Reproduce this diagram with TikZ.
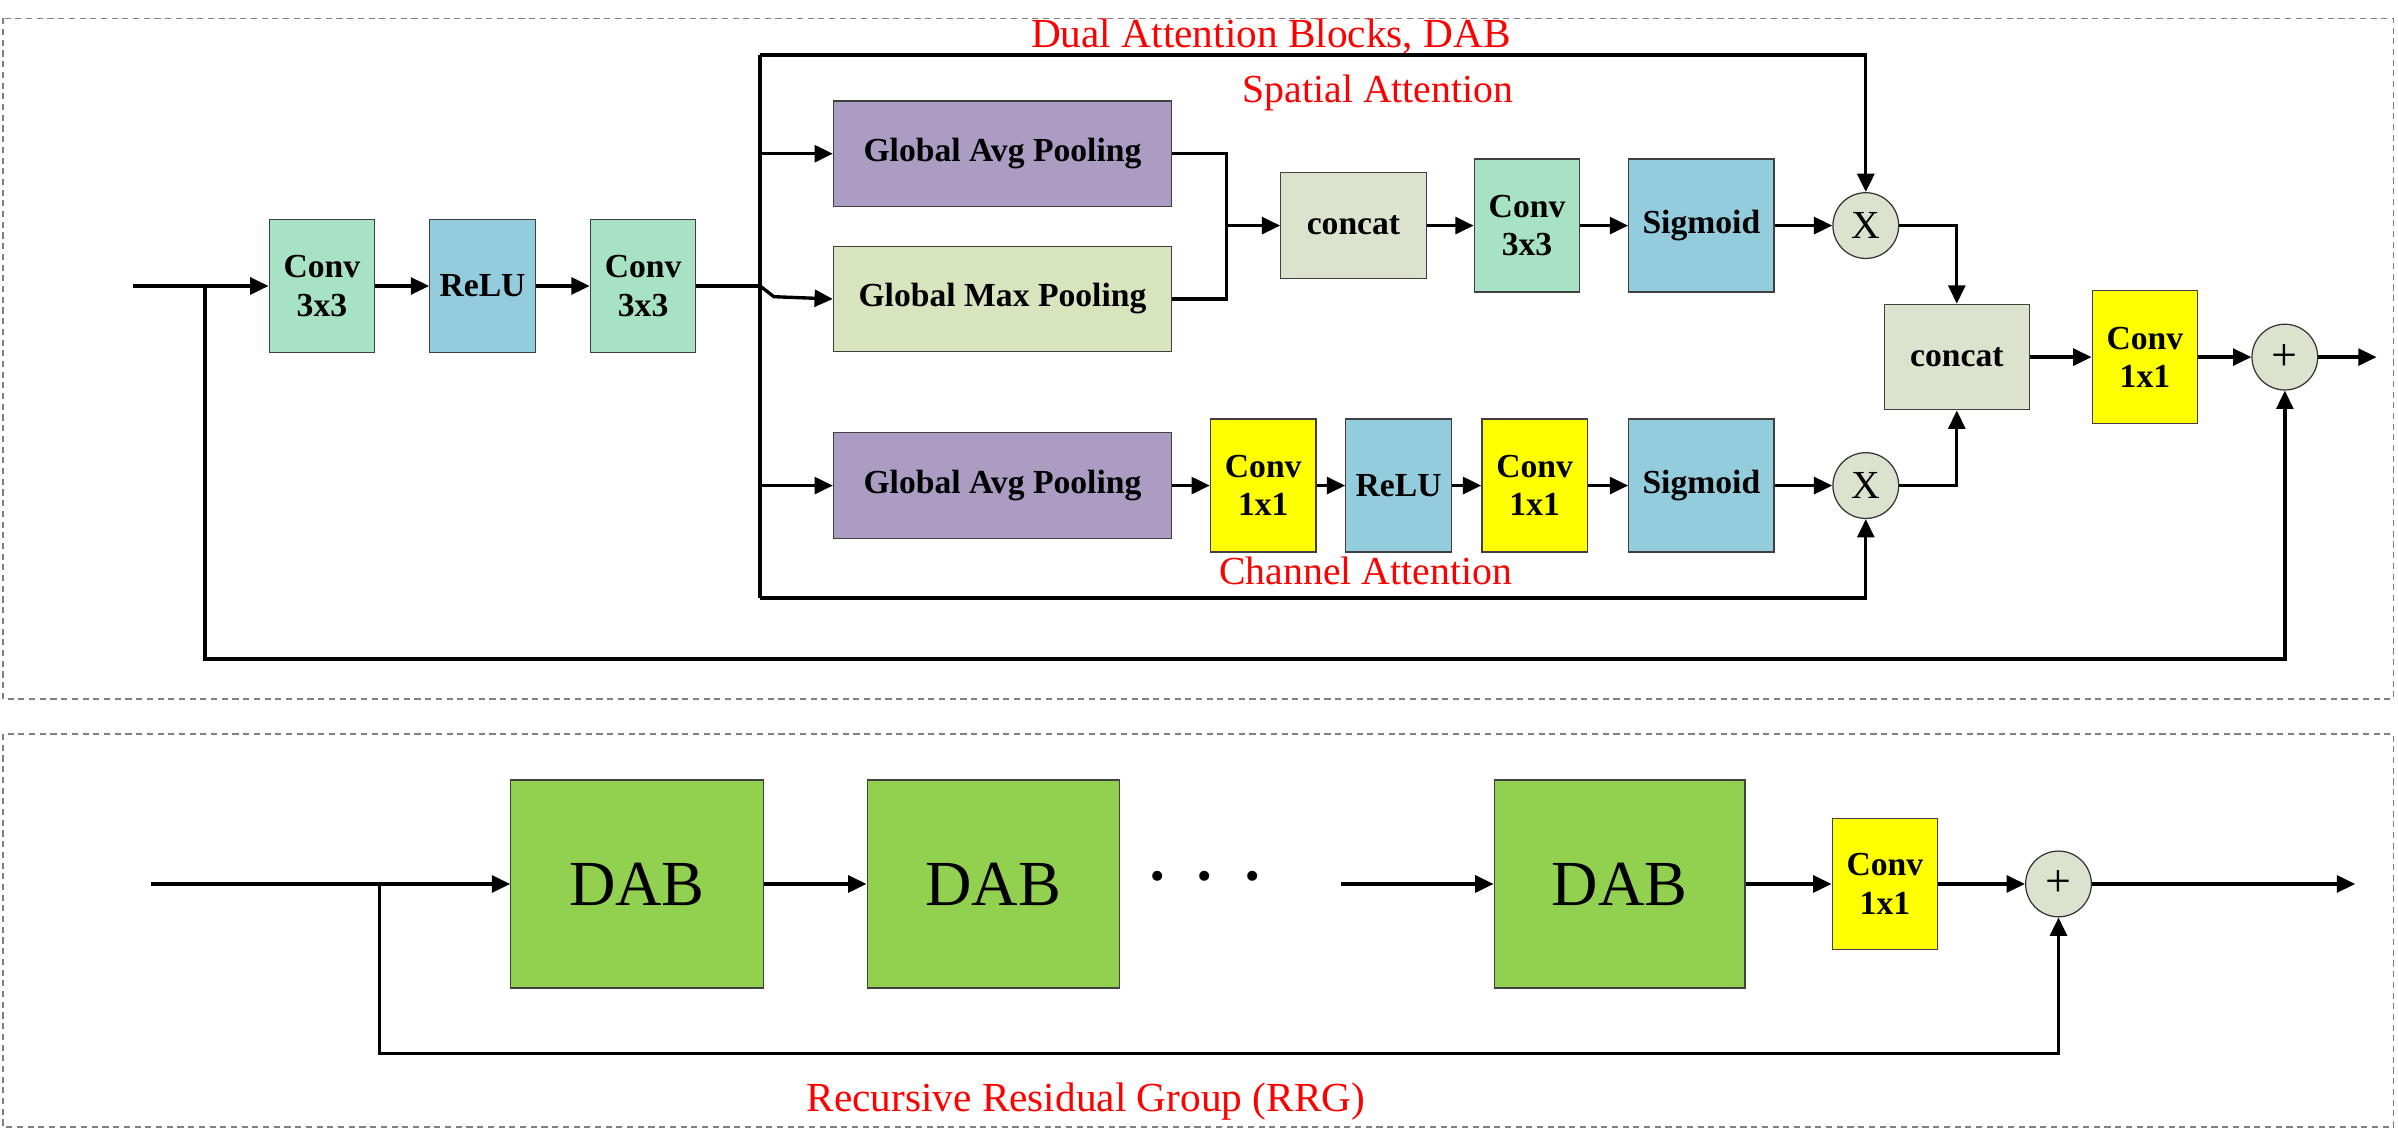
\documentclass[tikz,border=0pt]{standalone}
\usepackage{fontspec}
\setmainfont{Liberation Serif}
\usetikzlibrary{arrows.meta}
\definecolor{cgreen}{HTML}{A8E2C4}
\definecolor{cblue}{HTML}{93CDDD}
\definecolor{cpurple}{HTML}{AB9CC3}
\definecolor{clgreen}{HTML}{D7E4BD}
\definecolor{cgray}{HTML}{DDE2CF}
\definecolor{cyel}{HTML}{FFFF00}
\definecolor{cdab}{HTML}{92D050}
\definecolor{cred}{HTML}{FF0000}
\begin{document}
\begin{tikzpicture}[x=1pt,y=-1pt,
  blk/.style={draw=black!75, line width=0.8pt, inner sep=0pt, align=center,
    font=\fontsize{22}{25}\selectfont\bfseries},
  tall/.style={minimum width=69pt, minimum height=87pt},
  wide/.style={minimum width=221pt, minimum height=69pt},
  mid/.style={minimum width=95pt, minimum height=69pt},
  dabbox/.style={draw=black!75, line width=0.8pt, fill=cdab, inner sep=0pt,
    minimum width=165pt, minimum height=136pt, font=\fontsize{42}{42}\selectfont},
  conn/.style={line width=2.2pt},
  arr/.style={line width=2.2pt, -{Triangle[length=12pt,width=11pt]}},
  op/.style={circle, draw=black!80, fill=cgray, line width=0.8pt, minimum size=43pt,
    inner sep=0pt, font=\fontsize{26}{26}\selectfont},
  plusop/.style={op, font=\fontsize{30}{30}\selectfont},
  lbl/.style={text=cred, inner sep=0pt, font=\fontsize{26}{26}\selectfont},
  frame/.style={draw=black!50, dash pattern=on 4pt off 3pt, line width=0.9pt}]
\useasboundingbox (0,0) rectangle (1568,749);
\fill[white] (0,0) rectangle (1568,749);

% frames
\draw[frame] (2,12) rectangle (1565,457);
\draw[frame] (2,480) rectangle (1565,737);

% ---------- top panel ----------
\node[blk, tall, fill=cgreen] (c1) at (210.5,187) {Conv\\3x3};
\node[blk, tall, fill=cblue] (r1) at (315.5,187) {ReLU};
\node[blk, tall, fill=cgreen] (c2) at (420.5,187) {Conv\\3x3};

\node[blk, wide, fill=cpurple] (gap1) at (655.5,100.5) {Global Avg Pooling};
\node[blk, wide, fill=clgreen] (gmp) at (655.5,195.5) {Global Max Pooling};
\node[blk, mid, fill=cgray] (cat1) at (885,147.5) {concat};
\node[blk, tall, fill=cgreen] (c3) at (998.5,147.5) {Conv\\3x3};
\node[blk, tall, minimum width=95pt, fill=cblue] (sig1) at (1112.5,147.5) {Sigmoid};
\node[op] (x1) at (1220,147.5) {X};

\node[blk, wide, fill=cpurple] (gap2) at (655.5,317.5) {Global Avg Pooling};
\node[blk, tall, fill=cyel] (c4) at (826,317.5) {Conv\\1x1};
\node[blk, tall, fill=cblue] (r2) at (914.5,317.5) {ReLU};
\node[blk, tall, fill=cyel] (c5) at (1003.5,317.5) {Conv\\1x1};
\node[blk, tall, minimum width=95pt, fill=cblue] (sig2) at (1112.5,317.5) {Sigmoid};
\node[op] (x2) at (1220,317.5) {X};

\node[blk, mid, fill=cgray] (cat2) at (1279.5,233.5) {concat};
\node[blk, tall, fill=cyel] (c6) at (1402.5,233.5) {Conv\\1x1};
\node[plusop] (p1) at (1494,233.5) {+};

\node[lbl, font=\fontsize{27}{27}\selectfont] (title) at (831,24) {Dual Attention Blocks, DAB};
\node[lbl] (spat) at (901,61) {Spatial Attention};
\node[lbl] (chan) at (893,373) {Channel Attention};

\coordinate (inA) at (87,187);
\coordinate (jA) at (134,187);
\coordinate (skipL) at (134,431);
\coordinate (busM) at (497,187);
\coordinate (busT) at (497,36);
\coordinate (busB) at (497,391);
\coordinate (gmpk) at (506,194);
\coordinate (mg) at (802,147.5);
\coordinate (outA) at (1554,233.5);

\draw[arr] (inA) -- (c1.west);
\draw[arr] (c1) -- (r1);
\draw[arr] (r1) -- (c2);
\draw[conn] (c2.east) -- (busM);
\draw[conn] (busT) -- (busB);
\draw[arr] (busT |- gap1.west) -- (gap1.west);
\draw[arr] (busM) -- (gmpk) -- (gmp.west);
\draw[arr] (busB |- gap2.west) -- (gap2.west);
\draw[arr] (busT) -| (x1.north);
\draw[arr] (busB) -| (x2.south);

\draw[conn] (gap1.east) -| (mg) |- (gmp.east);
\draw[arr] (mg) -- (cat1.west);
\draw[arr] (cat1) -- (c3);
\draw[arr] (c3) -- (sig1);
\draw[arr] (sig1) -- (x1);
\draw[arr] (x1.east) -| (cat2.north);

\draw[arr] (gap2) -- (c4);
\draw[arr] (c4) -- (r2);
\draw[arr] (r2) -- (c5);
\draw[arr] (c5) -- (sig2);
\draw[arr] (sig2) -- (x2);
\draw[arr] (x2.east) -| (cat2.south);

\draw[arr] (cat2) -- (c6);
\draw[arr] (c6) -- (p1);
\draw[arr] (p1.east) -- (outA);
\draw[arr] (jA) -- (skipL) -| (p1.south);

% ---------- bottom panel ----------
\node[dabbox] (d1) at (416.5,578) {DAB};
\node[dabbox] (d2) at (649.5,578) {DAB};
\node[dabbox, minimum width=164pt] (d3) at (1059,578) {DAB};
\node[inner sep=0pt, font=\fontsize{40}{40}\selectfont\bfseries] (dots) at (788,578) {·\kern18pt·\kern18pt·};
\node[blk, fill=cyel, minimum width=69pt, minimum height=86pt] (c7) at (1232.5,578) {Conv\\1x1};
\node[plusop] (p2) at (1346,578) {+};
\node[lbl, font=\fontsize{27}{27}\selectfont] (rrg) at (710,720) {Recursive Residual Group (RRG)};

\coordinate (inB) at (99,578);
\coordinate (jB) at (248,578);
\coordinate (skipB) at (248,689);
\coordinate (dotsR) at (877,578);
\coordinate (outB) at (1540,578);

\draw[arr] (inB) -- (d1.west);
\draw[arr] (d1) -- (d2);
\draw[arr] (dotsR) -- (d3.west);
\draw[arr] (d3) -- (c7);
\draw[arr] (c7) -- (p2);
\draw[arr] (p2.east) -- (outB);
\draw[arr] (jB) -- (skipB) -| (p2.south);
\end{tikzpicture}
\end{document}
